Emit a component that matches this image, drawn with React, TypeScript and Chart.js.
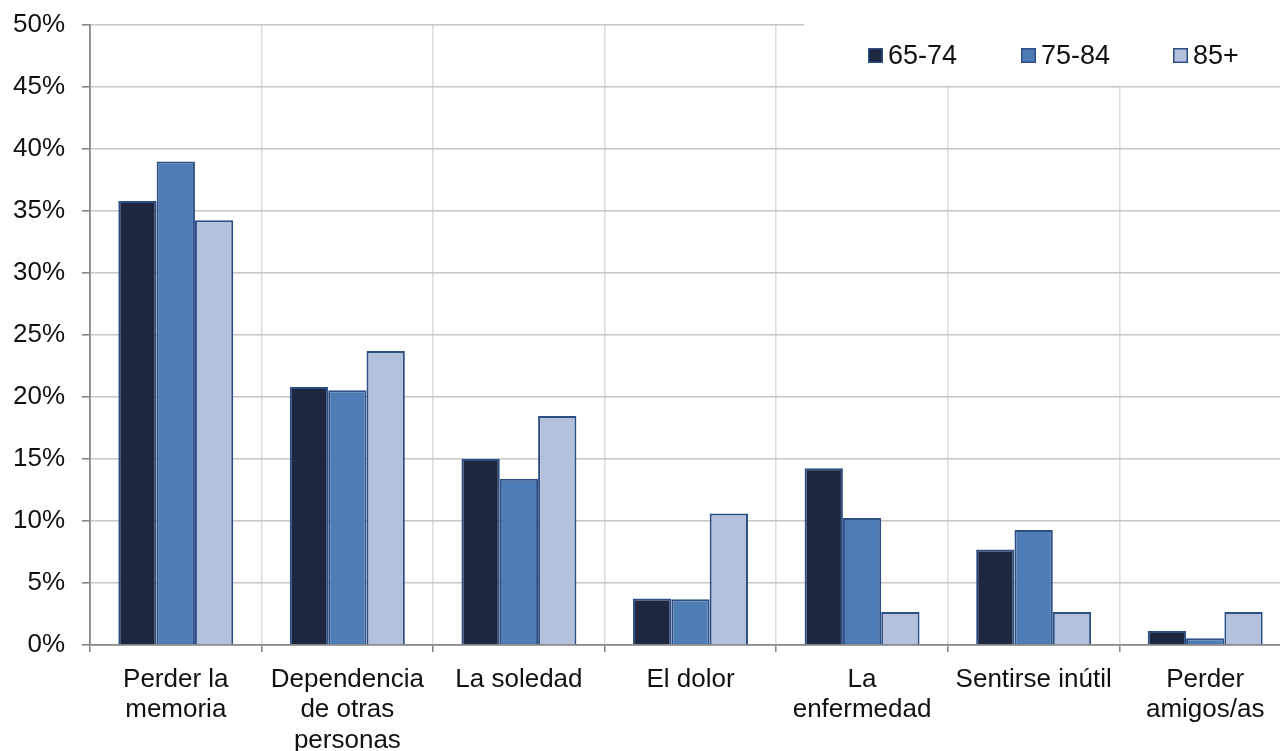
import React, { useEffect, useRef } from "react";
import { Chart, registerables } from "chart.js";

Chart.register(...registerables);

const categories: (string | string[])[] = [
  ["Perder la", "memoria"],
  ["Dependencia", "de otras", "personas"],
  "La soledad",
  "El dolor",
  ["La", "enfermedad"],
  "Sentirse inútil",
  ["Perder", "amigos/as"],
];

const seriesNames = ["65-74", "75-84", "85+"];
const s6574 = [35.8, 20.8, 15.0, 3.75, 14.25, 7.7, 1.13];
const s7584 = [39.0, 20.55, 13.4, 3.68, 10.24, 9.27, 0.55];
const s85 = [34.25, 23.7, 18.47, 10.6, 2.66, 2.66, 2.66];
const fills = ["#1d2740", "#4e7cb5", "#b4c1dc"];
const borderCol = "#2e4f85";
const yTicks = [0, 5, 10, 15, 20, 25, 30, 35, 40, 45, 50];

const FONT = "'Liberation Sans', Arial, sans-serif";

const legendPlugin = {
  id: "boxLegend",
  afterDraw(chart: any) {
    const ctx = chart.ctx;
    ctx.save();
    ctx.fillStyle = "#ffffff";
    ctx.fillRect(804, 0, chart.width - 804, 85.5);
    const xs = [868, 1021, 1173];
    chart.data.datasets.forEach((ds: any, i: number) => {
      const x = xs[i];
      ctx.fillStyle = ds.backgroundColor;
      ctx.fillRect(x, 48, 15, 15);
      ctx.strokeStyle = borderCol;
      ctx.lineWidth = 1.5;
      ctx.strokeRect(x + 0.75, 48.75, 13.5, 13.5);
      ctx.fillStyle = "#111111";
      ctx.font = `27px ${FONT}`;
      ctx.textBaseline = "middle";
      ctx.textAlign = "left";
      ctx.fillText(ds.label, x + 20, 56.5);
    });
    ctx.restore();
  },
};

export default function App() {
  const ref = useRef<HTMLCanvasElement | null>(null);
  useEffect(() => {
    if (!ref.current) return;
    const series = [s6574, s7584, s85];
    const chart = new Chart(ref.current, {
      type: "bar",
      data: {
        labels: categories,
        datasets: series.map((d, i) => ({
          label: seriesNames[i],
          data: d,
          backgroundColor: fills[i],
          borderColor: borderCol,
          borderWidth: 2,
          categoryPercentage: 0.67,
          barPercentage: 1.0,
        })),
      },
      options: {
        animation: false,
        responsive: false,
        maintainAspectRatio: false,
        layout: { padding: { top: 25, right: 9, left: 0, bottom: 0 } },
        plugins: { legend: { display: false }, tooltip: { enabled: false } },
        scales: {
          x: {
            grid: {
              offset: true,
              color: "#dddddd",
              lineWidth: 1.6,
              tickLength: 7,
              tickColor: "#888888",
            },
            border: { color: "#8a8a8a", width: 1.8 },
            ticks: {
              color: "#111111",
              font: { family: FONT, size: 26, lineHeight: 1.18 },
              padding: 12,
              maxRotation: 0,
              autoSkip: false,
            },
            afterFit(scale: any) {
              scale.height = 106;
            },
          },
          y: {
            min: 0,
            max: 50,
            afterBuildTicks(scale: any) {
              scale.ticks = yTicks.map((v) => ({ value: v }));
            },
            grid: {
              color: "#c6c6c6",
              lineWidth: 1.6,
              tickLength: 8,
              tickColor: "#888888",
            },
            border: { color: "#8a8a8a", width: 1.8 },
            ticks: {
              color: "#111111",
              font: { family: FONT, size: 26 },
              padding: 17,
              callback: (v: any) => `${v}%`,
            },
            afterFit(scale: any) {
              scale.width = 90;
              scale.paddingTop = 0;
              scale.paddingBottom = 0;
            },
          },
        },
      },
      plugins: [legendPlugin],
    });
    return () => chart.destroy();
  }, []);
  return (
    <div
      style={{
        position: "fixed",
        left: 0,
        top: 0,
        width: 1280,
        height: 751,
        overflow: "hidden",
        background: "#ffffff",
      }}
    >
      <canvas ref={ref} width={1300} height={751} style={{ width: 1300, height: 751, display: "block" }} />
    </div>
  );
}
